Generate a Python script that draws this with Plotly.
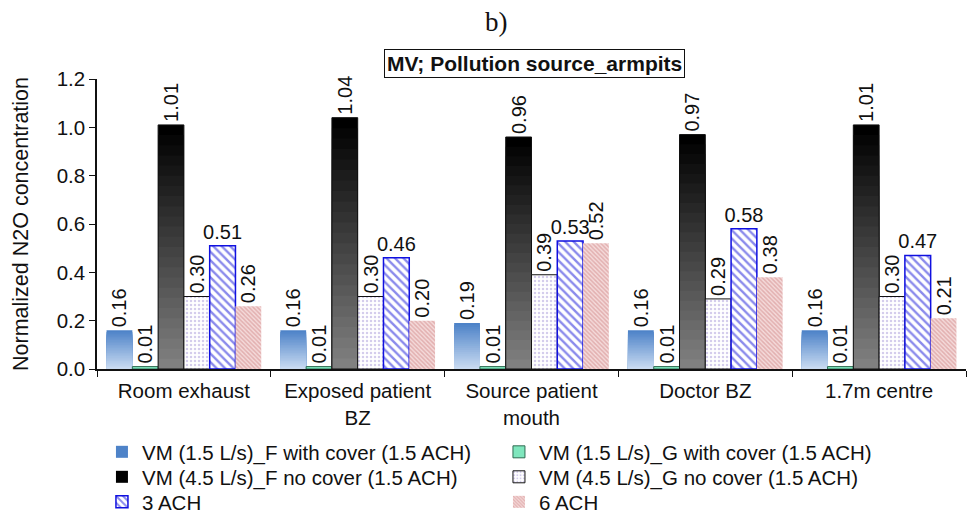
import plotly.graph_objects as go

categories = ["Room exhaust", "Exposed patient<br>BZ", "Source patient<br>mouth", "Doctor BZ", "1.7m centre"]

vm15_F_cover = [0.16, 0.16, 0.19, 0.16, 0.16]
vm15_G_cover = [0.01, 0.01, 0.01, 0.01, 0.01]
vm45_F_nocover = [1.01, 1.04, 0.96, 0.97, 1.01]
vm45_G_nocover = [0.30, 0.30, 0.39, 0.29, 0.30]
ach3 = [0.51, 0.46, 0.53, 0.58, 0.47]
ach6 = [0.26, 0.20, 0.52, 0.38, 0.21]

names = [
    "VM (1.5 L/s)_F with cover (1.5 ACH)",
    "VM (1.5 L/s)_G with cover (1.5 ACH)",
    "VM (4.5 L/s)_F no cover (1.5 ACH)",
    "VM (4.5 L/s)_G no cover (1.5 ACH)",
    "3 ACH",
    "6 ACH",
]

FONT = "Arial, Liberation Sans, sans-serif"
LBL = dict(family=FONT, size=20, color="#111111")

fig = go.Figure()


def lerp(c1, c2, t):
    return "rgb(%d,%d,%d)" % tuple(round(a + (b - a) * t) for a, b in zip(c1, c2))


def gradient_series(vals, name, group, legend, top, bottom, line_color, line_width):
    n = 24
    for k in range(n):
        frac = (n - k) / n
        fig.add_trace(go.Bar(
            x=categories, y=[v * frac for v in vals], offsetgroup=group,
            name=name, showlegend=(k == 0), legendgroup=group, legend=legend,
            marker=dict(color=lerp(top, bottom, k / (n - 1)), line=dict(width=0)),
            hoverinfo="skip",
        ))
    fig.add_trace(go.Bar(
        x=categories, y=vals, offsetgroup=group, name=name, showlegend=False,
        legendgroup=group, legend=legend,
        marker=dict(color="rgba(0,0,0,0)", line=dict(color=line_color, width=line_width)),
        texttemplate="%{y:.2f}", textposition="outside", textangle=-90,
        constraintext="none", textfont=LBL, cliponaxis=False,
    ))


gradient_series(vm15_F_cover, names[0], "g1", "legend", (78, 131, 200), (200, 218, 241), "rgba(0,0,0,0)", 0)

fig.add_trace(go.Bar(
    x=categories, y=vm15_G_cover, offsetgroup="g2", name=names[1], legendgroup="g2", legend="legend",
    marker=dict(color="#7fe6bd", line=dict(color="#2f6b52", width=1)),
    texttemplate="%{y:.2f}", textposition="outside", textangle=-90,
    constraintext="none", textfont=LBL, cliponaxis=False,
))

gradient_series(vm45_F_nocover, names[2], "g3", "legend2", (0, 0, 0), (128, 128, 128), "#111111", 1)

fig.add_trace(go.Bar(
    x=categories, y=vm45_G_nocover, offsetgroup="g4", name=names[3], legendgroup="g4", legend="legend2",
    marker=dict(color="white", line=dict(color="#111111", width=1),
                pattern=dict(shape=".", fgcolor="#a89ad8", bgcolor="white", size=4, solidity=0.3)),
    texttemplate="%{y:.2f}", textposition="outside", textangle=-90,
    constraintext="none", textfont=LBL, cliponaxis=False,
))

fig.add_trace(go.Bar(
    x=categories, y=ach3, offsetgroup="g5", name=names[4], legendgroup="g5", legend="legend3",
    marker=dict(color="white", line=dict(color="#1010e0", width=1.5),
                pattern=dict(shape="\\", fgcolor="#1515d8", bgcolor="white", size=6, solidity=0.4)),
    texttemplate="%{y:.2f}", textposition="outside", textangle=0,
    constraintext="none", textfont=LBL, cliponaxis=False,
))

fig.add_trace(go.Bar(
    x=categories, y=ach6, offsetgroup="g6", name=names[5], legendgroup="g6", legend="legend3",
    marker=dict(color="#f3d6d6", line=dict(width=0),
                pattern=dict(shape="\\", fgcolor="#d08484", bgcolor="#f4dada", size=3, solidity=0.5)),
    texttemplate="%{y:.2f}", textposition="outside", textangle=-90,
    constraintext="none", textfont=LBL, cliponaxis=False,
))


def legend_row(y):
    return dict(
        orientation="h", x=0.0057, xanchor="left", y=y, yanchor="top",
        font=dict(family=FONT, size=20.5, color="#111111"),
        entrywidth=352, entrywidthmode="pixels", traceorder="normal",
        bgcolor="rgba(0,0,0,0)", tracegroupgap=0,
    )


fig.update_layout(
    width=967, height=516,
    margin=dict(l=97, r=1, t=79, b=147, autoexpand=False),
    paper_bgcolor="white", plot_bgcolor="white",
    barmode="group", bargap=0.11, bargroupgap=0,
    font=dict(family=FONT, size=20, color="#111111"),
    showlegend=True,
    legend=legend_row(-0.2172),
    legend2=legend_row(-0.3034),
    legend3=legend_row(-0.3897),
    xaxis=dict(
        type="category", showline=True, linecolor="#111111", linewidth=1.5,
        ticks="outside", tickson="boundaries", ticklen=6, tickcolor="#111111",
        showgrid=False, ticklabelstandoff=3,
        tickfont=dict(family=FONT, size=20.5, color="#111111"),
    ),
    yaxis=dict(
        range=[0, 1.2], dtick=0.2, tickformat=".1f", showline=True,
        linecolor="#111111", linewidth=1.5, ticks="outside", ticklen=6,
        tickcolor="#111111", showgrid=False, zeroline=False,
        tickfont=dict(family=FONT, size=20.5, color="#111111"),
        title=dict(text="Normalized N2O concentration",
                   font=dict(family=FONT, size=21.5, color="#111111"), standoff=22),
    ),
    annotations=[
        dict(text="b)", xref="paper", yref="paper", x=0.46, y=1.195,
             xanchor="center", yanchor="middle", showarrow=False,
             font=dict(family="Liberation Serif, Times New Roman, serif", size=27, color="#111111")),
        dict(text="<b>MV; Pollution source_armpits</b>", xref="paper", yref="paper",
             x=0.503, y=1.052, xanchor="center", yanchor="middle", showarrow=False,
             bordercolor="#111111", borderwidth=1, borderpad=2, bgcolor="white",
             font=dict(family=FONT, size=21, color="#111111")),
    ],
)

fig.write_html("out.html", config={"displayModeBar": False},
               post_script="document.body.style.margin='0';")
